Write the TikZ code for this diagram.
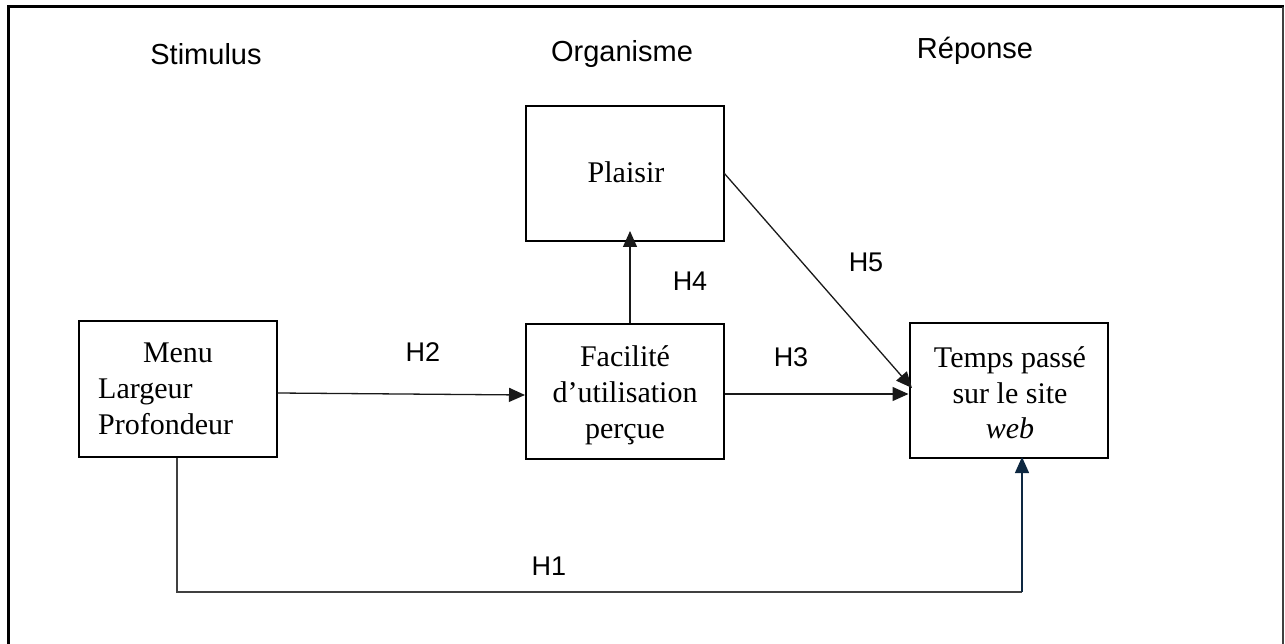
\documentclass[tikz,border=0pt]{standalone}
\usepackage{fontspec}
\setmainfont{Liberation Serif}
\newfontfamily\labfont{Liberation Sans}
\usetikzlibrary{arrows.meta}
\definecolor{navy}{HTML}{0E2841}
\tikzset{
  box/.style={draw=black, line width=2pt, minimum width=198pt, minimum height=135pt, inner sep=0pt},
  txt/.style={align=center, font=\fontsize{30}{36}\selectfont, inner sep=0pt},
  conn/.style={draw=black!90, line width=1.3pt, -{Triangle[length=16pt,width=14pt]}},
  hlab/.style={font=\labfont\fontsize{27}{32}\selectfont},
  head/.style={font=\labfont\fontsize{29}{34}\selectfont}
}
\begin{document}
\begin{tikzpicture}[x=1pt,y=-1pt]
\useasboundingbox (0,0) rectangle (1285,644);
% frame
\draw[line width=3pt, black] (8,644) -- (8,7) -- (1284,7);
\draw[line width=1.5pt, black!75] (1283,7) -- (1283,644);
% headers
\node[head] (hs) at (206,54) {Stimulus};
\node[head] (ho) at (622,54) {Organisme};
\node[head] (hr) at (975,51) {Réponse};
% boxes
\node[box] (menu) at (177.5,389) {};
\node[txt, anchor=base] (menut) at (178,362) {Menu};
\node[txt, anchor=base west] (larg) at (98,398) {Largeur};
\node[txt, anchor=base west] (prof) at (98,434) {Profondeur};
\node[box] (plaisir) at (625,173.5) {};
\node[txt, anchor=base] (plt) at (626,183) {Plaisir};
\node[box] (fac) at (625,391.5) {};
\node[txt, anchor=base] (fac1) at (625,366) {Facilité};
\node[txt, anchor=base] (fac2) at (625,402) {d’utilisation};
\node[txt, anchor=base] (fac3) at (625,438) {perçue};
\node[box] (temps) at (1008.5,390.5) {};
\node[txt, anchor=base] (t1) at (1010,367) {Temps passé};
\node[txt, anchor=base] (t2) at (1010,403) {sur le site};
\node[txt, anchor=base] (t3) at (1010,438) {\textit{web}};
% connectors
\draw[conn] (menu.east |- 0,393) -- (fac.west |- 0,395);
\draw[conn] (fac.north -| 630,0) -- ([yshift=11pt]plaisir.south -| 630,0);
\draw[conn] (fac.east |- 0,394) -- (temps.west |- 0,394);
\coordinate (h5s) at (724,173);
\coordinate (h5e) at (912,388);
\draw[conn] (h5s) -- (h5e);
\coordinate (h1a) at (177,592);
\coordinate (h1b) at (1022,592);
\draw[line width=1.3pt, black!75] (menu.south -| h1a) -- (h1a) -- (h1b);
\draw[conn, draw=navy, fill=navy] (h1b) -- ([yshift=2pt]temps.south -| h1b);
% labels
\node[hlab] (h2) at (423,352) {H2};
\node[hlab] (h3) at (791,357) {H3};
\node[hlab] (h4) at (690,281) {H4};
\node[hlab] (h5) at (866,262) {H5};
\node[hlab] (h1) at (549,566) {H1};
\end{tikzpicture}
\end{document}
